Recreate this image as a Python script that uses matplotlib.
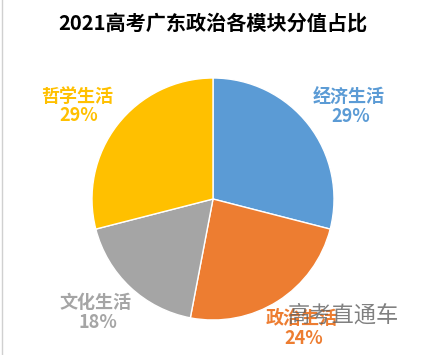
import matplotlib
matplotlib.use("Agg")
from matplotlib import pyplot as plt

plt.rcParams["font.family"] = ["Noto Sans CJK SC", "DejaVu Sans"]

# 各模块分值占比（%）
modules = ["经济生活", "政治生活", "文化生活", "哲学生活"]
shares = [29, 24, 18, 29]
colors = ["#5B9BD5", "#ED7D31", "#A5A5A5", "#FFC000"]
title = "2021高考广东政治各模块分值占比"

fig = plt.figure(figsize=(4.27, 3.55), dpi=100)
ax = fig.add_axes([0, 0, 1, 1])

cx, cy, r = 213, 156, 121
ax.pie(
    shares,
    colors=colors,
    startangle=90,
    counterclock=False,
    center=(cx, cy),
    radius=r,
    wedgeprops={"edgecolor": "white", "linewidth": 1},
    frame=True,
)
ax.axis("off")
ax.set_xlim(0, 427)
ax.set_ylim(0, 355)
ax.set_aspect("equal")

# 标签位置（像素坐标，原点在左下）
label_pos = [(349, 248), (302, 27), (96, 43), (77, 249)]
for name, v, c, (x, y) in zip(modules, shares, colors, label_pos):
    ax.text(x, y + 10, name, color=c, fontsize=13, fontweight="bold",
            ha="center", va="center")
    ax.text(x + 2, y - 10, f"{v}%", color=c, fontsize=13, fontweight="bold",
            ha="center", va="center")

ax.text(213, 332, title, fontsize=14.5, fontweight="bold",
        ha="center", va="center", color="black")

# 水印
ax.text(343, 40, "高考直通车", fontsize=16, color="#606060", alpha=0.8,
        ha="center", va="center")

ax.plot([2, 2], [0, 355], color="#d0d0d0", lw=1)

plt.savefig("out.png", dpi=100)
